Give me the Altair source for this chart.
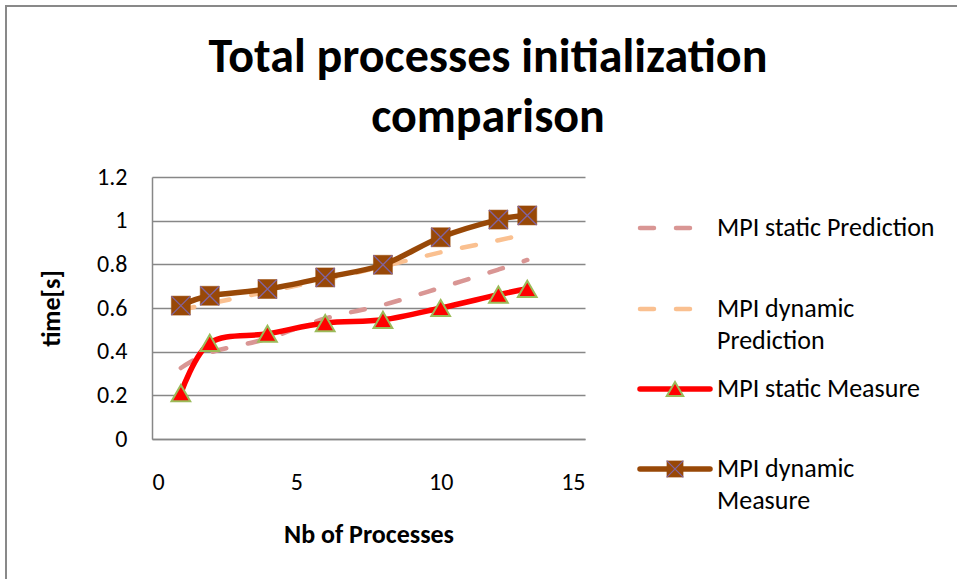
import altair as alt
import pandas as pd

# Number of MPI processes on the x axis
processes = [1, 2, 4, 6, 8, 10, 12, 13]

# Initialization time in seconds for each series
static_prediction = [0.325, 0.395, 0.46, 0.552, 0.614, 0.693, 0.776, 0.82]
dynamic_prediction = [0.59, 0.62, 0.675, 0.73, 0.79, 0.855, 0.91, 0.94]
static_measure = [0.21, 0.44, 0.482, 0.531, 0.546, 0.600, 0.661, 0.688]
dynamic_measure = [0.611, 0.656, 0.687, 0.740, 0.798, 0.924, 1.005, 1.024]

series_names = [
    "MPI static Prediction",
    "MPI dynamic Prediction",
    "MPI static Measure",
    "MPI dynamic Measure",
]
legend_labels = [
    ["MPI static Prediction"],
    ["MPI dynamic", "Prediction"],
    ["MPI static Measure"],
    ["MPI dynamic", "Measure"],
]
title_lines = ["Total processes initialization", "comparison"]
x_ticks = [0, 5, 10, 15]
y_ticks = [0, 0.2, 0.4, 0.6, 0.8, 1.0, 1.2]

FONT = "Carlito, Lato, sans-serif"
GRID = "#878787"
C_STATIC_PRED = "#D99694"
C_DYN_PRED = "#FAC090"
C_STATIC_MEAS = "#FF0000"
C_TRI_EDGE = "#9BBB59"
C_DYN_MEAS = "#984807"
C_CROSS = "#8064A2"

W, H = 433, 262

long = pd.DataFrame({
    "processes": processes * 4,
    "series": sum([[n] * len(processes) for n in series_names], []),
    "value": static_prediction + dynamic_prediction + static_measure + dynamic_measure,
})
anchor = pd.DataFrame({"k": [0]})

x_axis = alt.Axis(
    values=x_ticks, grid=False, ticks=False, tickSize=0, domainColor=GRID, domainWidth=1.5,
    labelFont=FONT, labelFontSize=24, labelColor="#000000", labelPadding=31,
    title="Nb of Processes", titleFont=FONT, titleFontSize=26, titleFontWeight="bold",
    titleColor="#000000", titleY=95, titleBaseline="middle",
)
y_axis = alt.Axis(
    values=y_ticks, grid=True, gridColor=GRID, gridWidth=1.5, ticks=False, tickSize=0,
    domainColor=GRID, domainWidth=1.5, format="~g",
    labelFont=FONT, labelFontSize=24, labelColor="#000000", labelPadding=25,
    title="time[s]", titleFont=FONT, titleFontSize=26, titleFontWeight="bold",
    titleColor="#000000", titleX=-101, titleY=H / 2, titleBaseline="middle", titleAngle=270,
)
x_enc = alt.X("processes:Q", scale=alt.Scale(domain=[0, 15], nice=False), axis=x_axis)
y_enc = alt.Y("value:Q", scale=alt.Scale(domain=[0, 1.2], nice=False), axis=y_axis)


def series(name):
    return alt.Chart(long).transform_filter(alt.datum.series == name)


dash = [14, 22]
static_pred_line = series(series_names[0]).mark_line(
    color=C_STATIC_PRED, strokeWidth=4.5, strokeDash=dash, strokeCap="round", interpolate="cardinal"
).encode(x=x_enc, y=y_enc)
dyn_pred_line = series(series_names[1]).mark_line(
    color=C_DYN_PRED, strokeWidth=4.5, strokeDash=dash, strokeCap="round", interpolate="cardinal"
).encode(x=x_enc, y=y_enc)
static_meas_line = series(series_names[2]).mark_line(
    color=C_STATIC_MEAS, strokeWidth=5.5, strokeCap="round", interpolate="cardinal"
).encode(x=x_enc, y=y_enc)
static_meas_pts = series(series_names[2]).mark_point(
    shape="triangle-up", filled=True, fill=C_STATIC_MEAS, stroke=C_TRI_EDGE, strokeWidth=2,
    size=350, opacity=1
).encode(x=x_enc, y=y_enc)
dyn_meas_line = series(series_names[3]).mark_line(
    color=C_DYN_MEAS, strokeWidth=5.5, strokeCap="round", interpolate="cardinal"
).encode(x=x_enc, y=y_enc)
dyn_meas_sq = series(series_names[3]).mark_point(
    shape="square", filled=True, fill=C_DYN_MEAS, stroke=C_DYN_MEAS, strokeWidth=0.5,
    size=361, opacity=1
).encode(x=x_enc, y=y_enc)
cross_path = "M-1,-1L1,1M-1,1L1,-1"
dyn_meas_x = series(series_names[3]).mark_point(
    shape=cross_path, filled=False, stroke=C_CROSS, strokeWidth=1.3, size=361, opacity=1
).encode(x=x_enc, y=y_enc)

# Outer frame of the chart
frame = alt.Chart(anchor).mark_rect(fill=None, stroke="#898989", strokeWidth=2).encode(
    x=alt.value(-146), x2=alt.value(812), y=alt.value(-171), y2=alt.value(410)
)

# Title, two lines
title_layers = [
    alt.Chart(anchor).mark_text(
        text=line, font=FONT, fontSize=48, fontWeight="bold", color="#000000",
        align="center", baseline="alphabetic"
    ).encode(x=alt.value(336), y=alt.value(y))
    for line, y in zip(title_lines, [-105, -45])
]

# Legend
LX0, LX1, TX = 488, 558, 565
legend_rows = [51, 132, 212, 292]
line_gap = 32
legend_layers = []
for i, (row_y, labels) in enumerate(zip(legend_rows, legend_labels)):
    if i < 2:
        legend_layers.append(
            alt.Chart(anchor).mark_rule(
                color=[C_STATIC_PRED, C_DYN_PRED][i], strokeWidth=4.5, strokeDash=dash, strokeCap="round"
            ).encode(x=alt.value(LX0), x2=alt.value(542), y=alt.value(row_y))
        )
    else:
        col = [C_STATIC_MEAS, C_DYN_MEAS][i - 2]
        legend_layers.append(
            alt.Chart(anchor).mark_rule(color=col, strokeWidth=5.5, strokeCap="round").encode(
                x=alt.value(LX0), x2=alt.value(LX1), y=alt.value(row_y)
            )
        )
        mx = (LX0 + LX1) / 2
        if i == 2:
            legend_layers.append(
                alt.Chart(anchor).mark_point(
                    shape="triangle-up", filled=True, fill=C_STATIC_MEAS, stroke=C_TRI_EDGE,
                    strokeWidth=2, size=270, opacity=1
                ).encode(x=alt.value(mx), y=alt.value(row_y))
            )
        else:
            legend_layers.append(
                alt.Chart(anchor).mark_point(
                    shape="square", filled=True, fill=C_DYN_MEAS, size=280, opacity=1
                ).encode(x=alt.value(mx), y=alt.value(row_y))
            )
            legend_layers.append(
                alt.Chart(anchor).mark_point(
                    shape=cross_path, filled=False, stroke=C_CROSS, strokeWidth=1.2, size=280, opacity=1
                ).encode(x=alt.value(mx), y=alt.value(row_y))
            )
    for j, text in enumerate(labels):
        legend_layers.append(
            alt.Chart(anchor).mark_text(
                text=text, font=FONT, fontSize=26, color="#000000", align="left", baseline="middle"
            ).encode(x=alt.value(TX), y=alt.value(row_y + j * line_gap))
        )

chart = alt.layer(
    frame,
    static_pred_line,
    dyn_pred_line,
    static_meas_line,
    static_meas_pts,
    dyn_meas_line,
    dyn_meas_sq,
    dyn_meas_x,
    *title_layers,
    *legend_layers,
).properties(
    width=W,
    height=H,
    padding={"left": 152, "top": 177, "right": 957 - 152 - W, "bottom": 579 - 177 - H},
    autosize=alt.AutoSizeParams(type="none"),
    background="#FFFFFF",
).configure_view(stroke=None)

chart.save("out.html", embed_options={"renderer": "svg", "actions": False})
